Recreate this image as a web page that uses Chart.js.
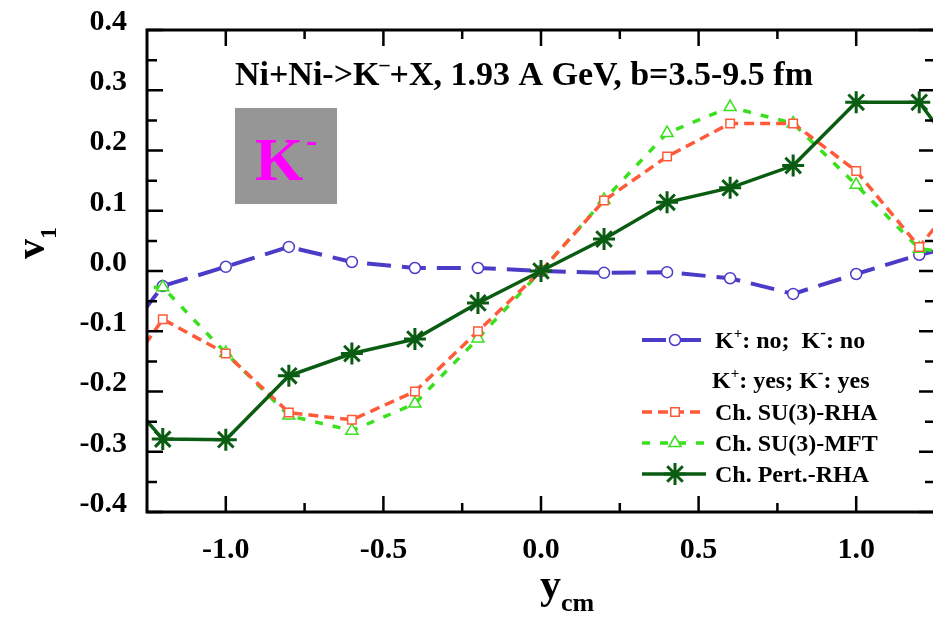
<!DOCTYPE html>
<html>
<head>
<meta charset="utf-8">
<script src="https://cdn.jsdelivr.net/npm/chart.js@4.4.0/dist/chart.umd.min.js"></script>
<style>
html, body { margin: 0; padding: 0; background: #fff; overflow: hidden; }
#wrap { width: 940px; height: 617px; }
</style>
</head>
<body>
<div id="wrap"><canvas id="v1chart" width="940" height="617"></canvas></div>
<script>
// rapidity points (the outer ones only carry the lines to the frame)
var yCm = [-1.4, -1.2, -1.0, -0.8, -0.6, -0.4, -0.2, 0.0, 0.2, 0.4, 0.6, 0.8, 1.0, 1.2, 1.4];

// v1 values
var noPot   = [-0.16, -0.025, 0.007, 0.04, 0.015, 0.005, 0.005, 0.0, -0.003, -0.002, -0.012, -0.038, -0.005, 0.027, 0.05];
var su3Rha  = [-0.23, -0.08, -0.137, -0.235, -0.247, -0.20, -0.10, 0.0, 0.117, 0.19, 0.245, 0.245, 0.166, 0.04, 0.17];
var su3Mft  = [-0.03, -0.027, -0.136, -0.24, -0.265, -0.22, -0.112, 0.0, 0.118, 0.229, 0.272, 0.245, 0.143, 0.037, 0.025];
var pertRha = [-0.16, -0.279, -0.28, -0.174, -0.137, -0.113, -0.053, 0.0, 0.053, 0.114, 0.138, 0.175, 0.28, 0.28, 0.14];

// ticks
var xTicks = [-1.0, -0.5, 0.0, 0.5, 1.0];
var xMinor = [-0.75, -0.25, 0.25, 0.75];
var yTicks = [-0.4, -0.3, -0.2, -0.1, 0.0, 0.1, 0.2, 0.3, 0.4];
var yMinor = [-0.35, -0.25, -0.15, -0.05, 0.05, 0.15, 0.25, 0.35];

var serifB = '"Liberation Serif", "Times New Roman", serif';

function pts(vals) {
    return yCm.map(function (x, i) { return { x: x, y: vals[i] }; });
}
function rad(r) {
    return function (c) { return Math.abs(yCm[c.dataIndex]) > 1.3 ? 0 : r; };
}

// texte avec exposants / indices
function richText(ctx, parts, x, y, size) {
    var cx = x;
    parts.forEach(function (p) {
        var s = p.size || size;
        var dy = p.sup ? -size * 0.42 : (p.sub ? size * 0.3 : 0);
        ctx.font = 'bold ' + s + 'px ' + serifB;
        ctx.fillText(p.t, cx, y + dy);
        cx += ctx.measureText(p.t).width;
    });
    return cx - x;
}
function richWidth(ctx, parts, size) {
    var w = 0;
    parts.forEach(function (p) {
        ctx.font = 'bold ' + (p.size || size) + 'px ' + serifB;
        w += ctx.measureText(p.t).width;
    });
    return w;
}

var deco = {
    id: 'deco',
    beforeDatasetsDraw: function (chart) {
        var ctx = chart.ctx;
        ctx.save();
        ctx.fillStyle = '#969696';
        ctx.fillRect(235, 108, 102, 96);
        ctx.fillStyle = '#ff00ff';
        ctx.textBaseline = 'alphabetic';
        ctx.font = 'bold 62px ' + serifB;
        ctx.fillText('K', 255, 180);
        ctx.font = 'bold 34px ' + serifB;
        ctx.fillText('-', 306, 152);
        ctx.restore();
    },
    afterDraw: function (chart) {
        var ctx = chart.ctx, a = chart.chartArea;
        var xs = chart.scales.x, ys = chart.scales.y;
        ctx.save();
        ctx.strokeStyle = '#000';
        ctx.lineWidth = 3;
        ctx.strokeRect(a.left, a.top, a.right - a.left, a.bottom - a.top);
        ctx.lineWidth = 2.5;
        function tickX(v, len) {
            var p = xs.getPixelForValue(v);
            ctx.beginPath();
            ctx.moveTo(p, a.bottom); ctx.lineTo(p, a.bottom - len);
            ctx.moveTo(p, a.top); ctx.lineTo(p, a.top + len);
            ctx.stroke();
        }
        function tickY(v, len) {
            var p = ys.getPixelForValue(v);
            ctx.beginPath();
            ctx.moveTo(a.left, p); ctx.lineTo(a.left + len, p);
            ctx.moveTo(a.right, p); ctx.lineTo(a.right - len, p);
            ctx.stroke();
        }
        xTicks.forEach(function (v) { tickX(v, 16); });
        xMinor.forEach(function (v) { tickX(v, 9); });
        yTicks.forEach(function (v) { tickY(v, 16); });
        yMinor.forEach(function (v) { tickY(v, 10); });

        ctx.fillStyle = '#000';
        ctx.textBaseline = 'alphabetic';
        // title
        richText(ctx, [{ t: 'Ni+Ni->K' }, { t: '\u2013', sup: true, size: 20 },
            { t: '+X, 1.93 A GeV, b=3.5-9.5 fm' }], 235, 85, 34);

        // axis titles
        var yt = [{ t: 'y' }, { t: 'cm', sub: true, size: 26 }];
        richText(ctx, yt, 567 - richWidth(ctx, yt, 42) / 2, 598, 42);
        ctx.save();
        ctx.translate(44, 243);
        ctx.rotate(-Math.PI / 2);
        var vt = [{ t: 'v' }, { t: '1', sub: true, size: 24 }];
        richText(ctx, vt, -richWidth(ctx, vt, 40) / 2, 0, 40);
        ctx.restore();

        // legend
        var ds = chart.data.datasets;
        var rows = [
            { d: ds[3], y: 340, parts: [{ t: 'K' }, { t: '+', sup: true, size: 15 }, { t: ': no;  K' }, { t: '-', sup: true, size: 17 }, { t: ': no' }] },
            { d: null, y: 380, parts: [{ t: 'K' }, { t: '+', sup: true, size: 15 }, { t: ': yes; K' }, { t: '-', sup: true, size: 17 }, { t: ': yes' }] },
            { d: ds[1], y: 412, parts: [{ t: 'Ch. SU(3)-RHA' }] },
            { d: ds[2], y: 443, parts: [{ t: 'Ch. SU(3)-MFT' }] },
            { d: ds[0], y: 474, parts: [{ t: 'Ch. Pert.-RHA' }] }
        ];
        rows.forEach(function (r) {
            ctx.fillStyle = '#000';
            if (!r.d) {
                richText(ctx, r.parts, 712, r.y + 8, 24);
                return;
            }
            var d = r.d;
            ctx.save();
            ctx.strokeStyle = d.borderColor;
            ctx.lineWidth = d.borderWidth;
            ctx.setLineDash(d.borderDash || []);
            ctx.beginPath();
            ctx.moveTo(642, r.y); ctx.lineTo(706, r.y);
            ctx.stroke();
            ctx.setLineDash([]);
            ctx.fillStyle = d.pointBackgroundColor;
            ctx.strokeStyle = d.pointBorderColor;
            ctx.lineWidth = d.pointBorderWidth;
            Chart.helpers.drawPoint(ctx, { pointStyle: d.pointStyle, radius: d.legendRadius, rotation: 0, borderWidth: d.pointBorderWidth }, 675, r.y);
            ctx.restore();
            ctx.fillStyle = '#000';
            richText(ctx, r.parts, 715, r.y + 8, 24);
        });
        ctx.restore();
    }
};

var ctx = document.getElementById('v1chart');
var chart = new Chart(ctx, {
    type: 'line',
    data: {
        datasets: [{
            label: 'Ch. Pert.-RHA',
            data: pts(pertRha),
            borderColor: '#0b5c13',
            borderWidth: 3.5,
            pointStyle: 'star',
            pointRadius: rad(11),
            legendRadius: 11,
            pointBorderWidth: 3,
            pointBorderColor: '#0b5c13',
            pointBackgroundColor: '#0b5c13'
        }, {
            label: 'Ch. SU(3)-RHA',
            data: pts(su3Rha),
            borderColor: '#ff5a3a',
            borderWidth: 3.5,
            borderDash: [10, 6],
            pointStyle: 'rect',
            pointRadius: rad(6),
            legendRadius: 6,
            pointBorderWidth: 1.5,
            pointBorderColor: '#ff5a3a',
            pointBackgroundColor: '#fff'
        }, {
            label: 'Ch. SU(3)-MFT',
            data: pts(su3Mft),
            borderColor: '#3ae01e',
            borderWidth: 3.5,
            borderDash: [8, 10],
            pointStyle: 'triangle',
            pointRadius: rad(7),
            legendRadius: 7,
            pointBorderWidth: 1.5,
            pointBorderColor: '#3ae01e',
            pointBackgroundColor: '#fff'
        }, {
            label: 'K+: no; K-: no',
            data: pts(noPot),
            borderColor: '#4b3cc8',
            borderWidth: 4,
            borderDash: [24, 11],
            pointStyle: 'circle',
            pointRadius: rad(5.5),
            legendRadius: 5.5,
            pointBorderWidth: 1.5,
            pointBorderColor: '#4b3cc8',
            pointBackgroundColor: '#fff'
        }]
    },
    options: {
        responsive: false,
        maintainAspectRatio: false,
        animation: false,
        clip: 0,
        layout: { padding: { top: 30, right: 5, left: 0, bottom: 0 } },
        plugins: { legend: { display: false }, tooltip: { enabled: false } },
        scales: {
            x: {
                type: 'linear',
                min: -1.25,
                max: 1.25,
                grid: { display: false, drawTicks: false },
                border: { display: false },
                afterBuildTicks: function (s) { s.ticks = xTicks.map(function (v) { return { value: v }; }); },
                afterFit: function (s) { s.height = 105; s.paddingLeft = 0; s.paddingRight = 0; },
                ticks: {
                    padding: 20,
                    color: '#000',
                    font: { family: serifB, size: 30, weight: 'bold' },
                    callback: function (v) { return v.toFixed(1); }
                }
            },
            y: {
                min: -0.4,
                max: 0.4,
                grid: { display: false, drawTicks: false },
                border: { display: false },
                afterBuildTicks: function (s) { s.ticks = yTicks.map(function (v) { return { value: v }; }); },
                afterFit: function (s) { s.width = 147; s.paddingTop = 0; s.paddingBottom = 0; },
                ticks: {
                    padding: 20,
                    labelOffset: -8,
                    color: '#000',
                    font: { family: serifB, size: 30, weight: 'bold' },
                    callback: function (v) { return v.toFixed(1); }
                }
            }
        }
    },
    plugins: [deco]
});
</script>
</body>
</html>
